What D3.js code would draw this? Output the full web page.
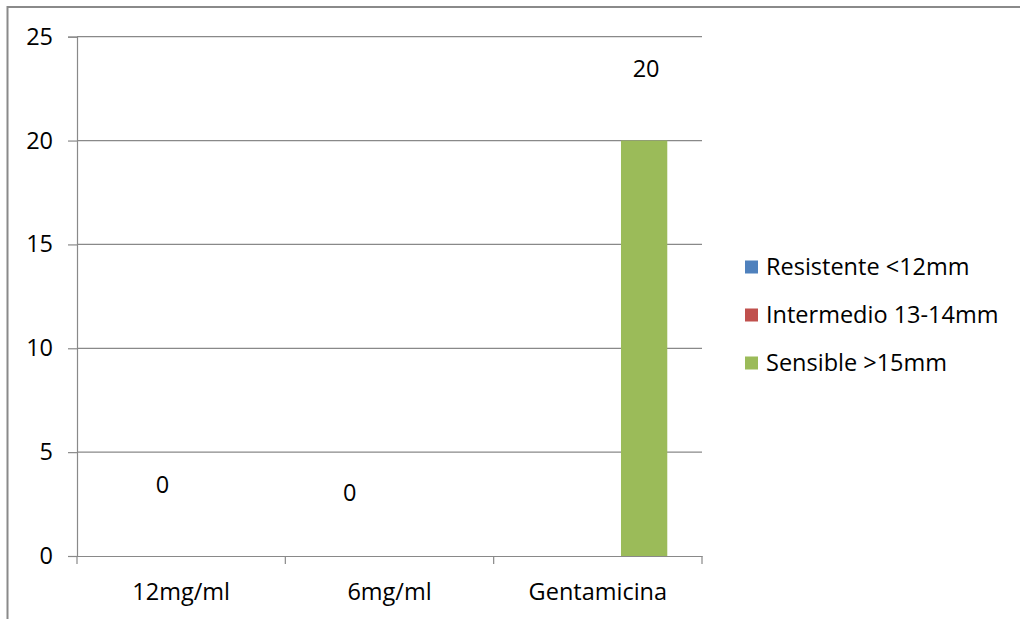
<!DOCTYPE html>
<html>
<head>
<meta charset="utf-8">
<script src="https://cdn.jsdelivr.net/npm/d3@7"></script>
<style>
  html, body { margin: 0; padding: 0; background: #fff; }
  svg { display: block; font-family: "Open Sans", sans-serif; }
</style>
</head>
<body>
<svg id="chart" width="1020" height="619"></svg>
<script>
// Categories and series
const categories = ["12mg/ml", "6mg/ml", "Gentamicina"];
const seriesNames = ["Resistente <12mm", "Intermedio 13-14mm", "Sensible >15mm"];
const resistente = [0, 0, 0];
const intermedio = [0, 0, 0];
const sensible = [0, 0, 20];
const yTicks = [0, 5, 10, 15, 20, 25];
const seriesColors = ["#4F81BD", "#C0504D", "#9BBB59"];
// hand-placed offsets of the value labels relative to their bar tops
const labelNudge = [[-65, -71], [-86, -63], [2, -72]];

const seriesValues = [resistente, intermedio, sensible];
const svg = d3.select("#chart");
const margin = { left: 77, right: 702, top: 36.7, bottom: 556 };
const grey = "#898989";
const fontSize = 23.5;

// outer frame
svg.append("rect")
  .attr("x", 7.5).attr("y", 7)
  .attr("width", 1030).attr("height", 640)
  .attr("fill", "none").attr("stroke", "#8a8a8a").attr("stroke-width", 2);

const x0 = d3.scaleBand().domain(categories).range([margin.left, margin.right]).paddingInner(0).paddingOuter(0);
// 150% gap between clusters
const gapRatio = 1.5;
const edge = x0.bandwidth() * gapRatio / (seriesNames.length + gapRatio) / 2;
const x1 = d3.scaleBand().domain(seriesNames).range([edge, x0.bandwidth() - edge]);
const y = d3.scaleLinear().domain([0, 25]).range([margin.bottom, margin.top]);

// gridlines
svg.append("g").selectAll("line").data(yTicks.filter(t => t > 0)).join("line")
  .attr("x1", margin.left).attr("x2", margin.right)
  .attr("y1", d => y(d)).attr("y2", d => y(d))
  .attr("stroke", grey).attr("stroke-width", 1.2);

// y axis
const yAxis = d3.axisLeft(y).tickValues(yTicks).tickSize(9).tickPadding(15).tickFormat(d3.format("d"));
const gy = svg.append("g").attr("transform", `translate(${margin.left},0)`).call(yAxis);
gy.select(".domain").attr("stroke", grey).attr("stroke-width", 1.2);
gy.selectAll(".tick line").attr("stroke", grey).attr("stroke-width", 1.2);
gy.selectAll(".tick text").attr("font-size", fontSize).attr("fill", "#000")
  .attr("font-family", "'Open Sans', sans-serif");

// bars
const groups = svg.append("g").selectAll("g").data(categories).join("g")
  .attr("transform", d => `translate(${x0(d)},0)`);
groups.selectAll("rect")
  .data((c, i) => seriesNames.map((s, j) => ({ s, v: seriesValues[j][i], c: seriesColors[j] })))
  .join("rect")
  .attr("x", d => x1(d.s)).attr("width", x1.bandwidth())
  .attr("y", d => y(d.v)).attr("height", d => y(0) - y(d.v))
  .attr("fill", d => d.c);

// x axis
const xAxis = d3.axisBottom(x0).tickSize(0).tickPadding(27);
const gx = svg.append("g").attr("transform", `translate(0,${margin.bottom})`).call(xAxis);
gx.select(".domain").attr("stroke", grey).attr("stroke-width", 1.2);
gx.selectAll(".tick text").attr("font-size", fontSize).attr("fill", "#000")
  .attr("font-family", "'Open Sans', sans-serif");
// category boundary ticks
const bounds = categories.map(c => x0(c)).concat([margin.right]);
svg.append("g").selectAll("line").data(bounds).join("line")
  .attr("x1", d => d).attr("x2", d => d)
  .attr("y1", margin.bottom).attr("y2", margin.bottom + 8)
  .attr("stroke", grey).attr("stroke-width", 1.2);

// value labels of the Sensible series
svg.append("g").selectAll("text").data(sensible).join("text")
  .attr("x", (d, i) => x0(categories[i]) + x1(seriesNames[2]) + x1.bandwidth() / 2 + labelNudge[i][0])
  .attr("y", (d, i) => y(d) + labelNudge[i][1])
  .attr("dy", "0.35em")
  .attr("text-anchor", "middle")
  .attr("font-size", fontSize).attr("fill", "#000")
  .text(d => d);

// legend
const legend = svg.append("g").selectAll("g").data(seriesNames).join("g")
  .attr("transform", (d, i) => `translate(745,${267 + i * 48})`);
legend.append("rect").attr("x", 0).attr("y", -6.5).attr("width", 13).attr("height", 13)
  .attr("fill", (d, i) => seriesColors[i]);
legend.append("text").attr("x", 21).attr("y", 0).attr("dy", "0.35em")
  .attr("font-size", fontSize).attr("fill", "#000").text(d => d);
</script>
</body>
</html>
